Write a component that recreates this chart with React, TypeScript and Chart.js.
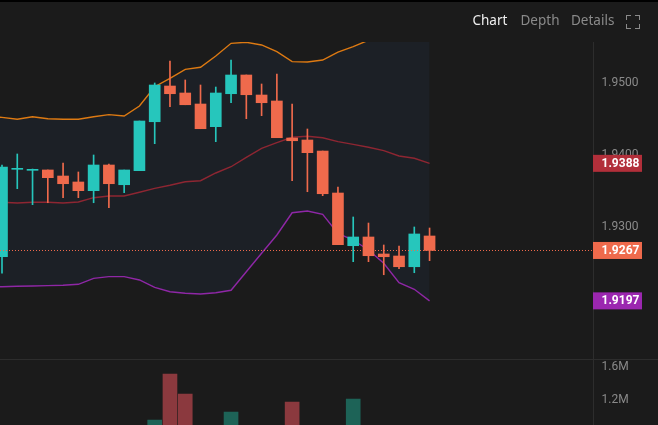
import React, { useEffect, useRef } from 'react';
import { Chart, registerables } from 'chart.js';

Chart.register(...registerables);

// ---- data ----
const opens = [
  1.92583, 1.93797, 1.93783, 1.93788, 1.93704, 1.93621, 1.935, 1.93857, 1.93583, 1.93778,
  1.94458, 1.94954, 1.94857, 1.94704, 1.94389, 1.94847, 1.95107, 1.94829, 1.94746, 1.94232,
  1.94204, 1.94051, 1.93468, 1.92736, 1.92857, 1.92621, 1.92593, 1.92444, 1.92871,
];
const closes = [
  1.93829, 1.9381, 1.93795, 1.93681, 1.93597, 1.935, 1.93857, 1.93597, 1.93788, 1.94468,
  1.94968, 1.94847, 1.94694, 1.94361, 1.94857, 1.95107, 1.94833, 1.94722, 1.94236, 1.94194,
  1.94028, 1.93458, 1.9275, 1.92857, 1.92597, 1.92583, 1.92444, 1.92899, 1.9267,
];
const highs = [
  1.93857, 1.9401, 1.93801, 1.93788, 1.93885, 1.9376, 1.93996, 1.93871, 1.93788, 1.94468,
  1.94996, 1.95301, 1.95038, 1.94968, 1.9494, 1.95315, 1.95107, 1.94982, 1.95121, 1.94704,
  1.94357, 1.94051, 1.93551, 1.93135, 1.93051, 1.92746, 1.92732, 1.92996, 1.92982,
];
const lows = [
  1.92353, 1.93528, 1.93306, 1.93333, 1.93403, 1.93403, 1.93333, 1.93264, 1.93472, 1.93778,
  1.94153, 1.94667, 1.94694, 1.94361, 1.94181, 1.94722, 1.945, 1.94542, 1.94236, 1.93639,
  1.93486, 1.93431, 1.9275, 1.92514, 1.92514, 1.92333, 1.92417, 1.92361, 1.92528,
];
const volumes = [
  640000, 380000, 310000, 420000, 450000, 360000, 560000, 510000, 470000, 820000,
  960000, 1512000, 1272000, 780000, 690000, 1056000, 840000, 520000, 880000, 1176000,
  760000, 850000, 890000, 1212000, 720000, 430000, 480000, 860000, 540000,
];
// Bollinger bands (first value belongs to the candle just left of the view)
const bandStart = -1;
const upperBand = [
  1.9452, 1.94519, 1.94492, 1.94528, 1.945, 1.94492, 1.94492, 1.94528, 1.94556, 1.94538, 1.94676,
  1.94944, 1.95061, 1.95186, 1.95214, 1.95371, 1.95547, 1.95561, 1.95524, 1.95431, 1.95292,
  1.95288, 1.95315, 1.95426, 1.955, 1.9559, 1.9566, 1.9574, 1.9577, 1.9579,
];
const middleBand = [
  1.9334, 1.93339, 1.93329, 1.93339, 1.93339, 1.93329, 1.93343, 1.93403, 1.93426, 1.93426, 1.93478,
  1.93533, 1.93575, 1.93625, 1.93639, 1.93746, 1.93833, 1.93964, 1.94089, 1.94167, 1.94242,
  1.94256, 1.94236, 1.94181, 1.94144, 1.94103, 1.94056, 1.93982, 1.9395, 1.9388,
];
const lowerBand = [
  1.9216, 1.92167, 1.92172, 1.92176, 1.92181, 1.92186, 1.922, 1.92283, 1.92306, 1.92306, 1.9226,
  1.92158, 1.92097, 1.92075, 1.92065, 1.92083, 1.92117, 1.92375, 1.92631, 1.92885, 1.93194,
  1.93218, 1.93172, 1.92908, 1.92815, 1.92676, 1.92492, 1.92222, 1.92131, 1.9197,
];
const priceTicks = [1.92, 1.93, 1.94, 1.95];
const volumeTicks = [1200000, 1600000];
const tabs = ['Chart', 'Depth', 'Details'];

// ---- styles ----
const BG = '#1b1b1b';
const UP = '#26c6bc';
const DOWN = '#ef6a4c';
const VOL_UP = '#1d6357';
const VOL_DOWN = '#8b393e';
const AXIS_LINE = '#2d2d2d';
const TEXT = '#8a8a8a';

const overlayPlugin = {
  id: 'overlay',
  afterDatasetsDraw(chart: any) {
    const { ctx, chartArea, scales } = chart;
    const y = scales.y;
    const last = closes[closes.length - 1];
    const py = Math.round(y.getPixelForValue(last)) + 0.5;
    ctx.save();
    ctx.strokeStyle = DOWN;
    ctx.lineWidth = 1;
    ctx.setLineDash([1, 2]);
    ctx.beginPath();
    ctx.moveTo(chartArea.left, py);
    ctx.lineTo(chartArea.right, py);
    ctx.stroke();
    ctx.restore();
  },
  afterDraw(chart: any) {
    const { ctx, scales, width } = chart;
    const y = scales.y;
    const yv = scales.yv;
    ctx.save();
    // pane separator
    ctx.strokeStyle = AXIS_LINE;
    ctx.lineWidth = 1;
    ctx.beginPath();
    ctx.moveTo(0, Math.round(yv.top) + 0.5);
    ctx.lineTo(width, Math.round(yv.top) + 0.5);
    ctx.stroke();
    // value labels
    const lastUp = closes[closes.length - 1] >= opens[opens.length - 1];
    const labels = [
      { v: middleBand[middleBand.length - 1], c: '#b22f3a' },
      { v: closes[closes.length - 1], c: lastUp ? UP : DOWN },
      { v: lowerBand[lowerBand.length - 1], c: '#9b27b0' },
    ];
    ctx.font = 'bold 12px Roboto';
    ctx.textBaseline = 'middle';
    ctx.textAlign = 'left';
    for (const l of labels) {
      const py = y.getPixelForValue(l.v);
      ctx.fillStyle = l.c;
      ctx.fillRect(y.left, py - 8.5, 49, 17);
      ctx.fillStyle = '#ffffff';
      ctx.fillText(l.v.toFixed(4), y.left + 8.5, py + 0.5);
    }
    ctx.restore();
  },
};

const fitAxis = (s: any) => {
  s.width = 65;
  s.paddingTop = 0;
  s.paddingBottom = 0;
};

export default function App() {
  const ref = useRef<HTMLCanvasElement>(null);

  useEffect(() => {
    document.body.style.margin = '0';
    document.body.style.background = BG;
    const canvas = ref.current;
    if (!canvas) return;

    const up = closes.map((c, i) => c >= opens[i]);
    const bodyData = opens.map((o, i) => ({ x: i, y: [o, closes[i]] }));
    const wickData = lows.map((l, i) => ({ x: i, y: [l, highs[i]] }));
    const volData = volumes.map((v, i) => ({ x: i, y: v }));
    const band = (arr: number[]) => arr.map((v, i) => ({ x: bandStart + i, y: v }));

    const chart = new Chart(canvas, {
      type: 'bar',
      data: {
        datasets: [
          {
            type: 'line',
            data: band(upperBand),
            borderColor: '#de7a12',
            borderWidth: 1.4,
            pointRadius: 0,
            tension: 0,
            fill: '+2',
            backgroundColor: '#1c2026',
            order: 10,
          } as any,
          {
            type: 'line',
            data: band(middleBand),
            borderColor: '#8e2632',
            borderWidth: 1.4,
            pointRadius: 0,
            tension: 0,
            fill: false,
            order: 9,
          } as any,
          {
            type: 'line',
            data: band(lowerBand),
            borderColor: '#8f27a6',
            borderWidth: 1.4,
            pointRadius: 0,
            tension: 0,
            fill: false,
            order: 8,
          } as any,
          {
            type: 'bar',
            data: volData,
            yAxisID: 'yv',
            backgroundColor: up.map((u) => (u ? VOL_UP : VOL_DOWN)),
            barThickness: 14,
            grouped: false,
            order: 7,
          } as any,
          {
            type: 'bar',
            data: wickData,
            yAxisID: 'y',
            backgroundColor: up.map((u) => (u ? UP : DOWN)),
            barThickness: 1,
            grouped: false,
            order: 2,
          } as any,
          {
            type: 'bar',
            data: bodyData,
            yAxisID: 'y',
            backgroundColor: up.map((u) => (u ? UP : DOWN)),
            barThickness: 11,
            minBarLength: 1,
            grouped: false,
            order: 1,
          } as any,
        ],
      },
      options: {
        animation: false,
        responsive: false,
        maintainAspectRatio: false,
        events: [],
        layout: { padding: { top: 42, left: 0, right: 0, bottom: 0 } },
        plugins: {
          legend: { display: false },
          tooltip: { enabled: false },
        },
        scales: {
          x: {
            type: 'linear',
            min: -0.131,
            max: 38.703,
            offset: false,
            grid: { offset: false, display: false },
            display: false,
          },
          y: {
            type: 'linear',
            position: 'right',
            stack: 'panes',
            stackWeight: 317,
            min: 1.911625,
            max: 1.955653,
            grid: { display: false, drawTicks: false },
            border: { display: true, color: AXIS_LINE, width: 1 },
            afterBuildTicks: (s: any) => {
              s.ticks = priceTicks.map((v) => ({ value: v }));
            },
            afterFit: fitAxis,
            ticks: {
              color: TEXT,
              font: { family: 'Roboto', size: 12 },
              padding: 8.5,
              callback: (v: any) => Number(v).toFixed(4),
            },
          },
          yv: {
            type: 'linear',
            position: 'right',
            stack: 'panes',
            stackWeight: 66,
            min: 900000,
            max: 1692400,
            grid: { display: false, drawTicks: false },
            border: { display: true, color: AXIS_LINE, width: 1 },
            afterBuildTicks: (s: any) => {
              s.ticks = volumeTicks.map((v) => ({ value: v }));
            },
            afterFit: fitAxis,
            ticks: {
              color: TEXT,
              font: { family: 'Roboto', size: 12 },
              padding: 8.5,
              callback: (v: any) => (Number(v) / 1e6).toFixed(1) + 'M',
            },
          },
        } as any,
      },
      plugins: [overlayPlugin],
    });

    return () => chart.destroy();
  }, []);

  const corner = (pos: React.CSSProperties): React.CSSProperties => ({
    position: 'absolute',
    width: 4,
    height: 4,
    borderColor: TEXT,
    borderStyle: 'solid',
    borderWidth: 0,
    ...pos,
  });

  const tabLefts = [472.5, 520.5, 571];

  return (
    <div style={{ position: 'relative', width: 658, height: 425, background: BG, overflow: 'hidden' }}>
      <canvas ref={ref} width={658} height={425} style={{ position: 'absolute', left: 0, top: 0, width: 658, height: 425 }} />
      <div style={{ position: 'absolute', left: 0, top: 0, width: 658, height: 2, background: '#000' }} />
      {tabs.map((t, i) => (
        <span
          key={t}
          style={{
            position: 'absolute',
            left: tabLefts[i],
            top: 13,
            fontFamily: '"Noto Sans", sans-serif',
            fontSize: 13.5,
            lineHeight: '14px',
            color: i === 0 ? '#eeeeee' : TEXT,
            whiteSpace: 'nowrap',
          }}
        >
          {t}
        </span>
      ))}
      <div style={{ position: 'absolute', left: 626, top: 15, width: 14, height: 14 }}>
        <div style={corner({ left: 0, top: 0, borderLeftWidth: 1.5, borderTopWidth: 1.5 })} />
        <div style={corner({ right: 0, top: 0, borderRightWidth: 1.5, borderTopWidth: 1.5 })} />
        <div style={corner({ left: 0, bottom: 0, borderLeftWidth: 1.5, borderBottomWidth: 1.5 })} />
        <div style={corner({ right: 0, bottom: 0, borderRightWidth: 1.5, borderBottomWidth: 1.5 })} />
      </div>
    </div>
  );
}
